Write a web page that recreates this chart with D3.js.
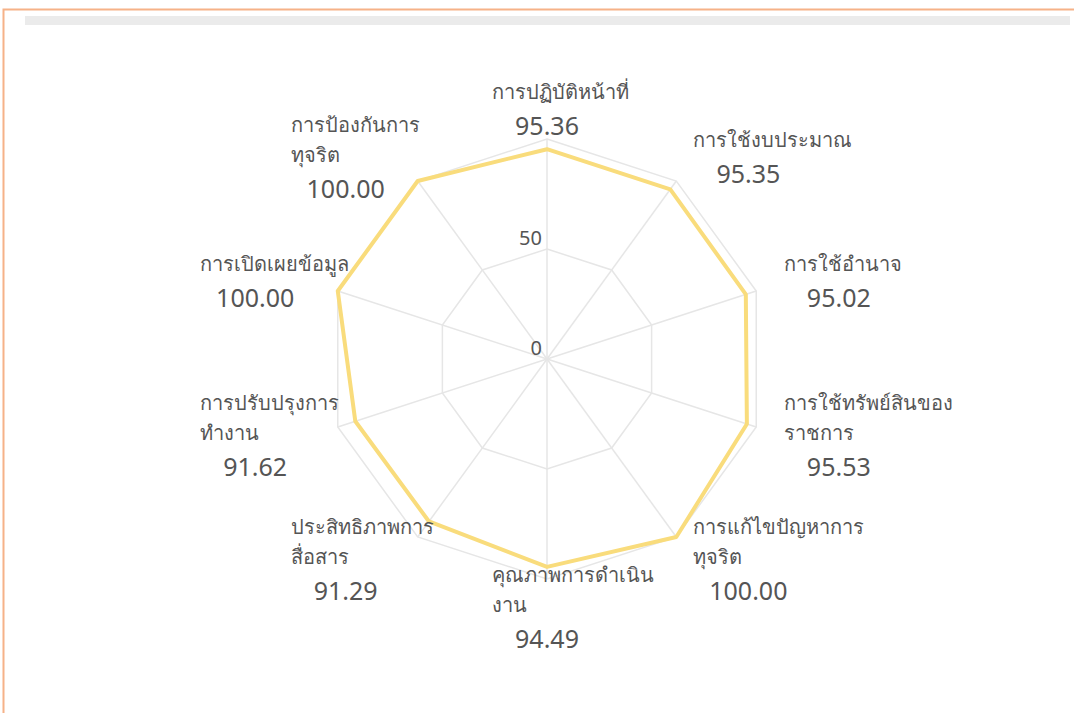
<!DOCTYPE html>
<html>
<head>
<meta charset="utf-8">
<script src="https://cdn.jsdelivr.net/npm/d3@7"></script>
<style>
  body { margin: 0; background: #fff; }
  svg { display: block; font-family: "Noto Sans", "Open Sans", sans-serif; }
</style>
</head>
<body>
<div id="container"></div>
<script>
/* DATA */
const categories = [
  ["การปฏิบัติหน้าที่"],
  ["การใช้งบประมาณ"],
  ["การใช้อำนาจ"],
  ["การใช้ทรัพย์สินของ", "ราชการ"],
  ["การแก้ไขปัญหาการ", "ทุจริต"],
  ["คุณภาพการดำเนิน", "งาน"],
  ["ประสิทธิภาพการ", "สื่อสาร"],
  ["การปรับปรุงการ", "ทำงาน"],
  ["การเปิดเผยข้อมูล"],
  ["การป้องกันการ", "ทุจริต"]
];
const scores = [95.36, 95.35, 95.02, 95.53, 100.00, 94.49, 91.29, 91.62, 100.00, 100.00];
const ticks = [0, 50, 100];
const tickLabels = [0, 50];

/* CONSTANTS */
const width = 1074, height = 713;
const cx = 547, cy = 359, R = 220;
const labelPad = 29, boxW = 110;
const textColor = "#555";

const svg = d3.select("#container").append("svg")
  .attr("width", width)
  .attr("height", height);

// frame and top bar
svg.append("path")
  .attr("d", `M3.5,${height} V9.5 H${width}`)
  .attr("fill", "none")
  .attr("stroke", "#f6b288")
  .attr("stroke-width", 2);

svg.append("rect")
  .attr("x", 25).attr("y", 16)
  .attr("width", 1045).attr("height", 9)
  .attr("fill", "#ebebeb");

// SCALES
const rScale = d3.scaleLinear().domain([0, 100]).range([0, R]);
const aScale = d3.scaleLinear().domain([0, categories.length]).range([0, 2 * Math.PI]);

const pt = (i, v) => {
  const a = aScale(i), r = rScale(v);
  return [cx + r * Math.sin(a), cy - r * Math.cos(a)];
};

const g = svg.append("g");

// GRID
const ringLine = d3.line().curve(d3.curveLinearClosed);
g.selectAll(".ring")
  .data(ticks.filter(t => t > 0))
  .join("path")
  .attr("class", "ring")
  .attr("d", t => ringLine(categories.map((c, i) => pt(i, t))))
  .attr("fill", "none")
  .attr("stroke", "#e6e6e6")
  .attr("stroke-width", 1.5);

g.selectAll(".spoke")
  .data(categories)
  .join("line")
  .attr("class", "spoke")
  .attr("x1", cx).attr("y1", cy)
  .attr("x2", (d, i) => pt(i, 100)[0])
  .attr("y2", (d, i) => pt(i, 100)[1])
  .attr("stroke", "#e6e6e6")
  .attr("stroke-width", 1.5);

// tick labels
g.selectAll(".tick")
  .data(tickLabels)
  .join("text")
  .attr("class", "tick")
  .attr("x", cx - 5)
  .attr("y", t => cy - rScale(t) - 4)
  .attr("text-anchor", "end")
  .attr("fill", textColor)
  .attr("font-size", 20)
  .text(t => t);

// DATA LINE
g.append("path")
  .datum(scores)
  .attr("d", d => ringLine(d.map((v, i) => pt(i, v))))
  .attr("fill", "none")
  .attr("stroke", "#f9dc7c")
  .attr("stroke-width", 4)
  .attr("stroke-linejoin", "round");

// POINT LABELS
const lineGap = 30, valueGap = 36;
categories.forEach((lines, i) => {
  const a = aScale(i);
  const [ax, ay] = pt(i, 100 + rScale.invert(labelPad));
  const s = Math.sin(a);
  let left;
  if (Math.abs(s) < 0.1) left = ax - boxW / 2;
  else if (s > 0) left = ax;
  else left = ax - boxW;

  // block: thai lines then value; centred vertically on anchor
  const total = (lines.length - 1) * lineGap + valueGap;
  const firstBase = ay - total / 2 + 7;
  const lg = svg.append("g");
  lines.forEach((t, k) => {
    lg.append("text")
      .attr("x", left)
      .attr("y", firstBase + k * lineGap)
      .attr("fill", textColor)
      .attr("font-size", 20)
      .text(t);
  });
  lg.append("text")
    .attr("x", left + boxW / 2)
    .attr("y", firstBase + (lines.length - 1) * lineGap + valueGap)
    .attr("text-anchor", "middle")
    .attr("fill", textColor)
    .attr("font-size", 25)
    .text(d3.format(".2f")(scores[i]));
});
</script>
</body>
</html>
